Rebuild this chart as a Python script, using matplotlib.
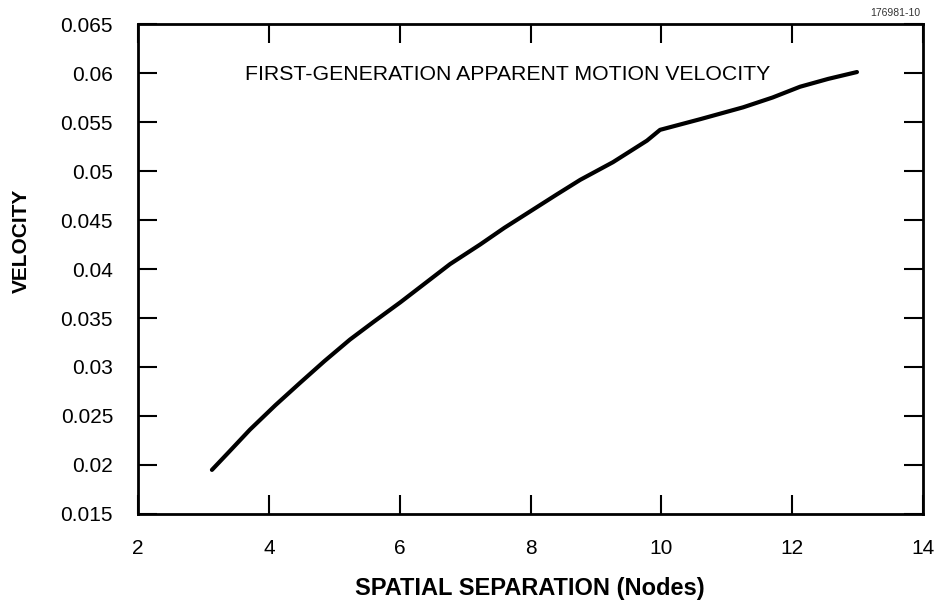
import matplotlib
matplotlib.use("Agg")
import matplotlib.pyplot as plt

plt.rcParams["font.family"] = ["Liberation Sans", "DejaVu Sans"]

# values
separation = [3.13, 3.4, 3.71, 4.1, 4.48, 4.85, 5.24, 5.6, 6.01, 6.4, 6.77, 7.23,
              7.6, 8.0, 8.4, 8.76, 9.26, 9.78, 9.98, 10.6, 11.25, 11.7, 12.12, 12.55, 12.99]
velocity = [0.0195, 0.0214, 0.0236, 0.0261, 0.0284, 0.0306, 0.0328, 0.0346, 0.0366,
            0.0386, 0.0405, 0.0425, 0.0442, 0.0459, 0.0476, 0.0491, 0.0509, 0.0531,
            0.0542, 0.0553, 0.0565, 0.0575, 0.0586, 0.0594, 0.0601]

xticks = [2, 4, 6, 8, 10, 12, 14]
yticks = [0.015, 0.02, 0.025, 0.03, 0.035, 0.04, 0.045, 0.05, 0.055, 0.06, 0.065]
yticklabels = ["0.015", "0.02", "0.025", "0.03", "0.035", "0.04", "0.045",
               "0.05", "0.055", "0.06", "0.065"]

fig = plt.figure(figsize=(9.35, 6.02), dpi=100)
ax = fig.add_axes([0.1476, 0.1462, 0.8396, 0.8139])

ax.plot(separation, velocity, color="black", linewidth=3.0,
        solid_capstyle="round", solid_joinstyle="round")

ax.set_xlim(2, 14)
ax.set_ylim(0.015, 0.065)
ax.set_xticks(xticks)
ax.set_xticklabels([str(v) for v in xticks])
ax.set_yticks(yticks)
ax.set_yticklabels(yticklabels)

for s in ax.spines.values():
    s.set_linewidth(2.0)
ax.tick_params(direction="in", length=13.5, width=1.5, top=True, right=True,
               labelsize=15, pad=18)

ax.text(0.136, 0.896, "FIRST-GENERATION APPARENT MOTION VELOCITY",
        transform=ax.transAxes, fontsize=15.3, ha="left", va="center")

# axis titles placed by hand, as in the reference
fig.text(0.567, 0.011, "SPATIAL SEPARATION (Nodes)", fontsize=17, fontweight="bold",
         ha="center", va="baseline")
fig.text(0.0225, 0.60, "VELOCITY", fontsize=15, fontweight="bold",
         rotation=90, ha="center", va="center")

fig.text(0.984, 0.978, "176981-10", fontsize=7.5, ha="right", va="center", color="#333333")

fig.savefig("out.png", dpi=100)
